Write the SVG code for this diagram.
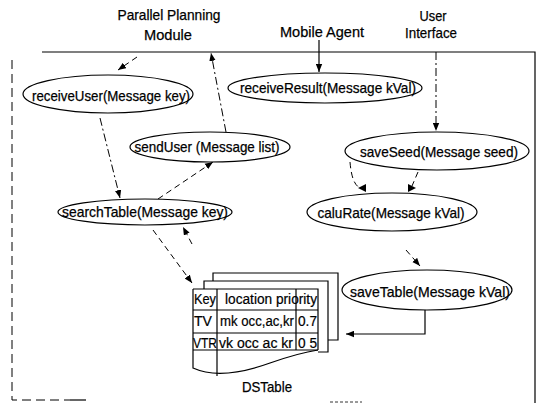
<svg xmlns="http://www.w3.org/2000/svg" width="541" height="403" viewBox="0 0 541 403">
<defs>
<style>
.t{font-family:"Liberation Sans",Arial,sans-serif;font-size:15px;fill:#000;stroke:#000;stroke-width:0.25}
.tt{font-family:"Liberation Sans",Arial,sans-serif;font-size:14px;fill:#000;stroke:#000;stroke-width:0.2}
.e{fill:#fff;stroke:#000;stroke-width:1.2}
.s{fill:none;stroke:#000;stroke-width:1.2}
.d{fill:none;stroke:#000;stroke-width:1;stroke-dasharray:6 4}
.dd{fill:none;stroke:#000;stroke-width:1;stroke-dasharray:8 3 2 3}
.ah{fill:#000}
</style>
<marker id="a" viewBox="0 0 10 8" refX="10" refY="4" markerWidth="8" markerHeight="7" markerUnits="userSpaceOnUse" orient="auto">
<path d="M0,0 L10,4 L0,8 Z" fill="#000"/>
</marker>
</defs>
<rect width="541" height="403" fill="#fff"/>

<g id="labels">
<text class="t" x="169" y="20" text-anchor="middle" textLength="103" lengthAdjust="spacingAndGlyphs">Parallel Planning</text>
<text class="t" x="168" y="40" text-anchor="middle" textLength="48" lengthAdjust="spacingAndGlyphs">Module</text>
<text class="t" x="322" y="37" text-anchor="middle" textLength="84" lengthAdjust="spacingAndGlyphs">Mobile Agent</text>
<text class="t" x="433" y="21" text-anchor="middle" textLength="27" lengthAdjust="spacingAndGlyphs">User</text>
<text class="t" x="431" y="38" text-anchor="middle" textLength="52" lengthAdjust="spacingAndGlyphs">Interface</text>
</g>

<g id="frame">
<path class="s" d="M42,52 L535,52 L535,403"/>
<path fill="none" stroke="#000" stroke-width="1" stroke-dasharray="9 5" d="M12,60 L12,400 L70,400"/>
<path class="s" d="M70,400 L86,400"/>
<path fill="none" stroke="#000" stroke-width="0.8" stroke-dasharray="3 2" d="M330,402 L362,402"/>
</g>

<g id="connectors">
<path class="d" d="M137,57 L118,70" marker-end="url(#a)"/>
<path class="dd" d="M226,132 L211,53" marker-end="url(#a)"/>
<path class="dd" d="M100,118 L120,198" marker-end="url(#a)"/>
<path class="d" d="M158,199 L213,162" marker-end="url(#a)"/>
<path class="d" d="M153,230 L192,283" marker-end="url(#a)"/>
<path class="d" d="M192,244 L183,227" marker-end="url(#a)"/>
<path class="s" d="M319,40 L319,72" marker-end="url(#a)"/>
<path class="dd" d="M436,52 L436,131" marker-end="url(#a)"/>
<path class="d" d="M350,162 Q352,186 361,188"/>
<path class="ah" d="M358,188 L366,184 L366,192 Z"/>
<path class="d" d="M418,172 L412,186"/>
<path class="ah" d="M416,188 L408,184 L408,192 Z"/>
<path class="d" d="M406,250 L420,266" marker-end="url(#a)"/>
<path class="s" d="M425,310 L425,334 L346,334" marker-end="url(#a)"/>
</g>

<g id="receiveUser">
<ellipse class="e" cx="108" cy="94" rx="85" ry="19"/>
<text class="t" x="111" y="101" text-anchor="middle" textLength="158" lengthAdjust="spacingAndGlyphs">receiveUser(Message key)</text>
</g>
<g id="receiveResult">
<ellipse class="e" cx="325" cy="88" rx="97" ry="15"/>
<text class="t" x="328" y="93" text-anchor="middle" textLength="176" lengthAdjust="spacingAndGlyphs">receiveResult(Message kVal)</text>
</g>
<g id="sendUser">
<ellipse class="e" cx="210" cy="147" rx="80" ry="15"/>
<text class="t" x="207" y="152" text-anchor="middle" textLength="145" lengthAdjust="spacingAndGlyphs">sendUser (Message list)</text>
</g>
<g id="saveSeed">
<ellipse class="e" cx="437" cy="151" rx="92" ry="19"/>
<text class="t" x="439" y="157" text-anchor="middle" textLength="158" lengthAdjust="spacingAndGlyphs">saveSeed(Message seed)</text>
</g>
<g id="searchTable">
<ellipse class="e" cx="145" cy="212" rx="87" ry="13"/>
<text class="t" x="145" y="217" text-anchor="middle" textLength="166" lengthAdjust="spacingAndGlyphs">searchTable(Message key)</text>
</g>
<g id="caluRate">
<ellipse class="e" cx="392" cy="212" rx="85" ry="19"/>
<text class="t" x="391" y="218" text-anchor="middle" textLength="147" lengthAdjust="spacingAndGlyphs">caluRate(Message kVal)</text>
</g>
<g id="saveTable">
<ellipse class="e" cx="427" cy="290" rx="85" ry="20"/>
<text class="t" x="430" y="297" text-anchor="middle" textLength="160" lengthAdjust="spacingAndGlyphs">saveTable(Message kVal)</text>
</g>

<g id="DSTable">
<path class="s" d="M213,281 L213,273 L338,273 L338,340 L328,340"/>
<path class="s" d="M204,289 L204,281 L328,281 L328,352 L318,352"/>
<path class="s" d="M193,289 L318,289 L318,350 M193,289 L193,368 C215,378 245,372 270,363 C290,356 305,352 318,350"/>
<path class="s" d="M193,310 L318,310 M193,333 L318,333 M193,350 L318,350 M217,289 L217,376 M296,289 L296,350"/>
<text class="tt" x="194" y="304" textLength="22" lengthAdjust="spacingAndGlyphs">Key</text>
<text class="tt" x="225" y="304" textLength="92" lengthAdjust="spacingAndGlyphs">location priority</text>
<text class="tt" x="194" y="326" textLength="18" lengthAdjust="spacingAndGlyphs">TV</text>
<text class="tt" x="220" y="326" textLength="74" lengthAdjust="spacingAndGlyphs">mk occ,ac,kr</text>
<text class="tt" x="298" y="326" textLength="19" lengthAdjust="spacingAndGlyphs">0.7</text>
<text class="tt" x="193" y="348" textLength="24" lengthAdjust="spacingAndGlyphs">VTR</text>
<text class="tt" x="219" y="348" textLength="74" lengthAdjust="spacingAndGlyphs">vk occ ac kr</text>
<text class="tt" x="298" y="348" textLength="19" lengthAdjust="spacingAndGlyphs">0 5</text>
<text class="t" x="267" y="392" text-anchor="middle" textLength="50" lengthAdjust="spacingAndGlyphs">DSTable</text>
</g>
</svg>
